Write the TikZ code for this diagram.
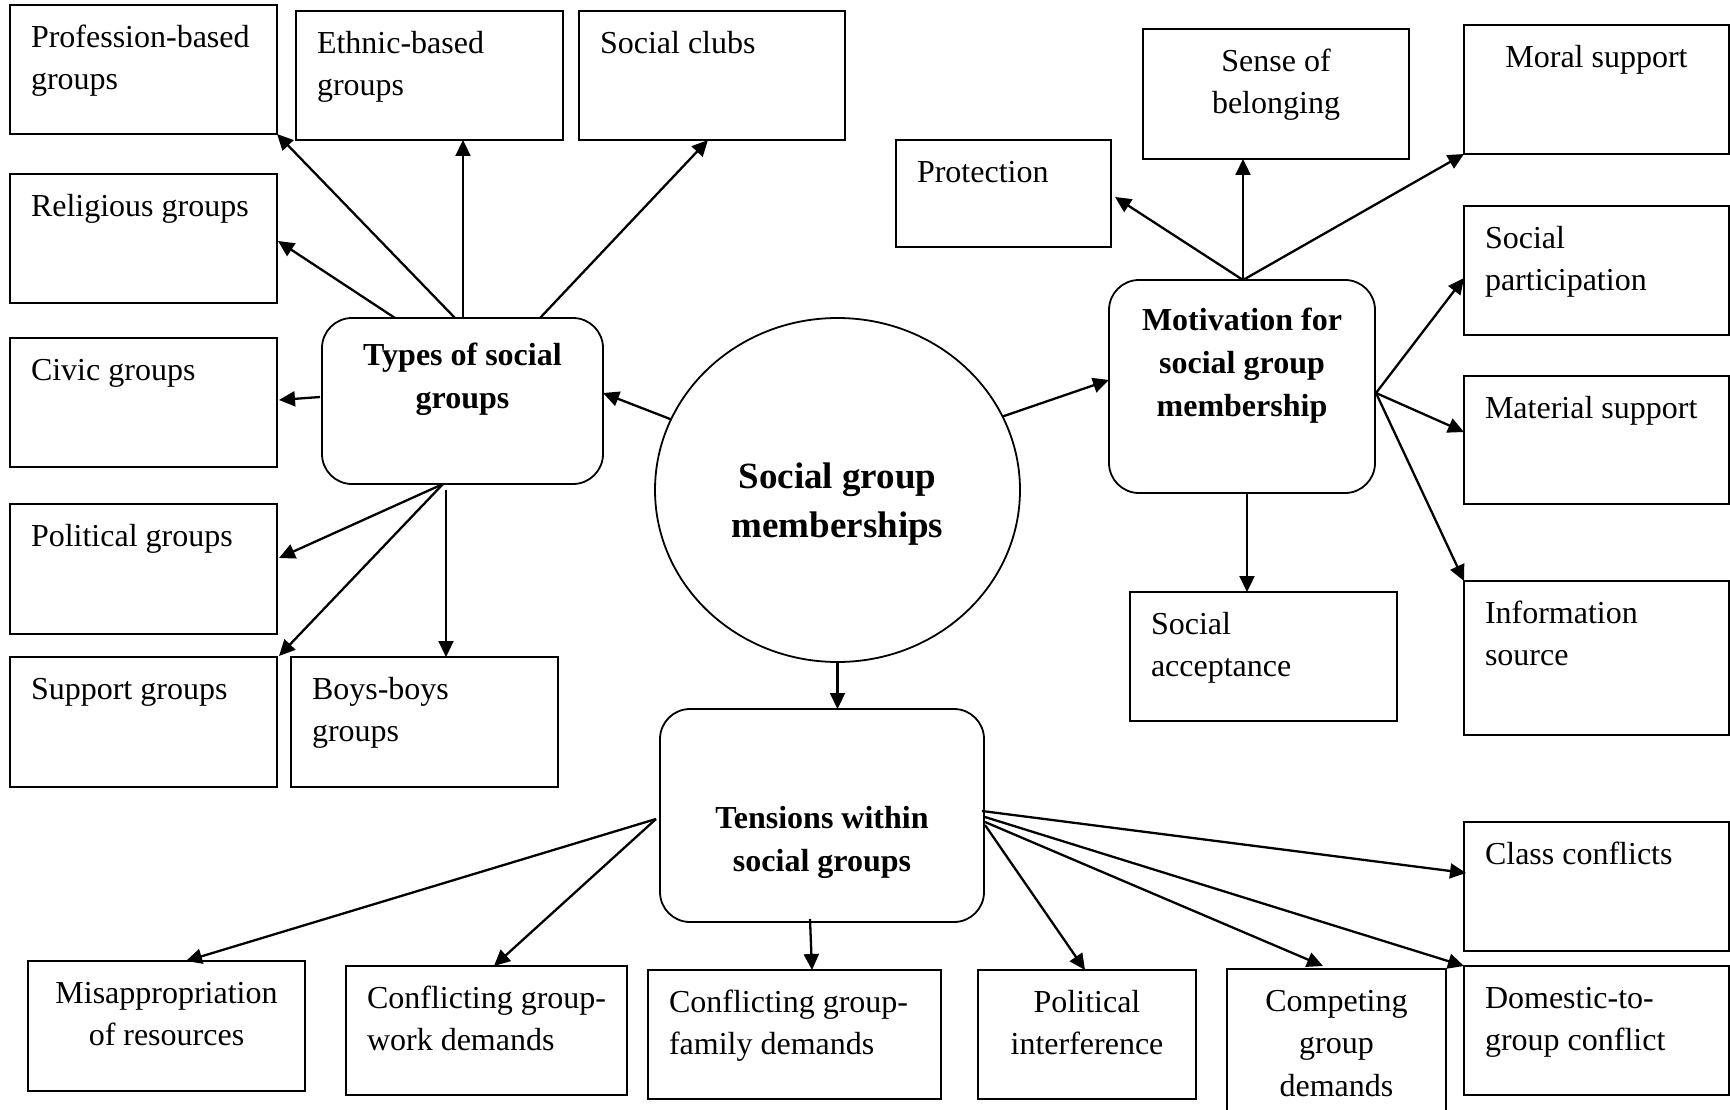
\documentclass[tikz,border=0pt]{standalone}
\usepackage{fontspec}
\setmainfont{Liberation Serif}
\usetikzlibrary{arrows.meta,calc,shapes.geometric}

\newcommand\lblfont{\fontsize{32}{42.5}\selectfont}
\newcommand\hubfont{\bfseries\fontsize{32}{43}\selectfont}
\newcommand\corefont{\bfseries\fontsize{37}{49.5}\selectfont}

% plain box: name, left, top, right, bottom (pixel-like units, y downwards)
\newcommand\sqbox[5]{\node[sq, minimum width={(#4)-(#2)}, minimum height={(#5)-(#3)}] (#1) at (#2,#3) {};}
% rounded hub box
\newcommand\hubbox[5]{\node[hub, minimum width={(#4)-(#2)}, minimum height={(#5)-(#3)}] (#1) at (#2,#3) {};}
% left-aligned and centred box captions
\newcommand\txtL[2]{\node[lbl] (#1-t) at ($(#1.north west)+(21,12.4)$) {\strut #2};}
\newcommand\txtC[2]{\node[lblc] (#1-t) at ($(#1.north)+(0,12.4)$) {\strut #2};}

\begin{document}
\begin{tikzpicture}[x=1pt,y=-1pt,
  sq/.style={draw, line width=1.8pt, rectangle, inner sep=0pt, outer sep=0pt, anchor=north west},
  hub/.style={sq, rounded corners=30pt},
  core/.style={draw, line width=1.8pt, ellipse, minimum width=365pt, minimum height=344pt, inner sep=0pt, outer sep=0pt},
  lbl/.style={inner sep=0pt, outer sep=0pt, font=\lblfont, align=left, anchor=north west},
  lblc/.style={lbl, align=center, anchor=north},
  hubtxt/.style={inner sep=0pt, outer sep=0pt, font=\hubfont, align=center, anchor=north},
  arr/.style={-{Triangle[length=16pt,width=15pt]}, line width=2.3pt}]

\path[use as bounding box, fill=white] (0,0) rectangle (1730,1110);

% ---- centre ----
\node[core] (core) at (837.5,490) {};
\node[hubtxt, font=\corefont] (core-t) at ($(core.center)+(0,-36.2)$) {\strut Social group\\memberships};

% ---- types of social groups ----
\hubbox{types}{322}{318}{603}{484}
\node[hubtxt] (types-t) at ($(types.north)+(0,17.5)$) {\strut Types of social\\groups};

\sqbox{prof}{10}{5}{277}{134}      \txtL{prof}{Profession-based\\groups}
\sqbox{ethnic}{296}{11}{563}{140}  \txtL{ethnic}{Ethnic-based\\groups}
\sqbox{clubs}{579}{11}{845}{140}   \txtL{clubs}{Social clubs}
\sqbox{relig}{10}{174}{277}{303}   \txtL{relig}{Religious groups}
\sqbox{civic}{10}{338}{277}{467}   \txtL{civic}{Civic groups}
\sqbox{polit}{10}{504}{277}{634}   \txtL{polit}{Political groups}
\sqbox{support}{10}{657}{277}{787} \txtL{support}{Support groups}
\sqbox{boys}{291}{657}{558}{787}   \txtL{boys}{Boys-boys\\groups}

% ---- motivation ----
\hubbox{motiv}{1109}{280}{1375}{493}
\node[hubtxt] (motiv-t) at ($(motiv.north)+(0,19.9)$) {\strut Motivation for\\social group\\membership};

\sqbox{protect}{896}{140}{1111}{247}    \txtL{protect}{Protection}
\sqbox{belong}{1143}{29}{1409}{159}     \txtC{belong}{Sense of\\belonging}
\sqbox{moral}{1464}{25}{1729}{154}      \txtC{moral}{Moral support}
\sqbox{partic}{1464}{206}{1729}{335}    \txtL{partic}{Social\\participation}
\sqbox{material}{1464}{376}{1729}{504}  \txtL{material}{Material support}
\sqbox{info}{1464}{581}{1729}{735}      \txtL{info}{Information\\source}
\sqbox{accept}{1130}{592}{1397}{721}    \txtL{accept}{Social\\acceptance}

% ---- tensions ----
\hubbox{tens}{660}{709}{984}{922}
\node[hubtxt] (tens-t) at ($(tens.north)+(0,89.5)$) {\strut Tensions within\\social groups};

\sqbox{misap}{28}{961}{305}{1091}     \txtC{misap}{Misappropriation\\of resources}
\sqbox{cwork}{346}{966}{627}{1095}    \txtL{cwork}{Conflicting group-\\work demands}
\sqbox{cfam}{648}{970}{941}{1099}     \txtL{cfam}{Conflicting group-\\family demands}
\sqbox{pinterf}{978}{970}{1196}{1099} \txtC{pinterf}{Political\\interference}
\sqbox{compet}{1227}{969}{1446}{1125} \txtC{compet}{Competing\\group\\demands}
\sqbox{domestic}{1464}{966}{1729}{1095} \txtL{domestic}{Domestic-to-\\group conflict}
\sqbox{class}{1464}{822}{1729}{951}   \txtL{class}{Class conflicts}

% ---- connectors: centre ----
\draw[arr] (core.157) -- ($(types.north east)+(0,75)$);
\draw[arr] (core.24) -- ($(motiv.north west)+(0,100)$);
\draw[arr] (core.south) -- (core.south |- tens.north);

% ---- connectors: types ----
\draw[arr] ($(types.north west)+(133,0)$) -- (prof.south east);
\draw[arr] ($(types.north west)+(141,0)$) coordinate (tyE) -- (tyE |- ethnic.south);
\draw[arr] ($(types.north west)+(218,0)$) -- ($(clubs.south west)+(129,0)$);
\draw[arr] ($(types.north west)+(73,0)$) -- ($(relig.north east)+(1,67)$);
\draw[arr] ($(types.north west)+(-2,79)$) -- ($(civic.north east)+(2,62)$);
\draw[arr] ($(types.south west)+(121,0)$) -- ($(polit.north east)+(2,54)$);
\draw[arr] ($(types.south west)+(121,0)$) -- ($(support.north east)+(2,-1)$);
\draw[arr] ($(types.south west)+(124,6)$) coordinate (tyB) -- (tyB |- boys.north);

% ---- connectors: motivation ----
\coordinate (moT) at ($(motiv.north west)+(134,0)$);
\coordinate (moR) at ($(motiv.north east)+(1,113)$);
\draw[arr] (moT) -- ($(protect.north east)+(4,57)$);
\draw[arr] (moT) -- (moT |- belong.south);
\draw[arr] (moT) -- (moral.south west);
\draw[arr] (moR) -- ($(partic.north west)+(0,72)$);
\draw[arr] (moR) -- ($(material.north west)+(0,56)$);
\draw[arr] (moR) -- (info.north west);
\draw[arr] ($(motiv.south west)+(138,0)$) coordinate (moB) -- (moB |- accept.north);

% ---- connectors: tensions ----
\coordinate (teL) at ($(tens.north west)+(-4,110)$);
\draw[arr] (teL) -- ($(misap.north west)+(158,0)$);
\draw[arr] (teL) -- ($(cwork.north west)+(148,0)$);
\draw[arr] ($(tens.south west)+(150,-3)$) -- ($(cfam.north west)+(164,0)$);
\draw[arr] ($(tens.north east)+(-2,102)$) -- ($(class.north west)+(2,51)$);
\draw[arr] ($(tens.north east)+(1,108)$) -- (domestic.north west);
\draw[arr] ($(tens.north east)+(1,113)$) -- ($(compet.north west)+(96,-3)$);
\draw[arr] ($(tens.north east)+(1,116)$) -- ($(pinterf.north west)+(107,0)$);
\end{tikzpicture}
\end{document}
